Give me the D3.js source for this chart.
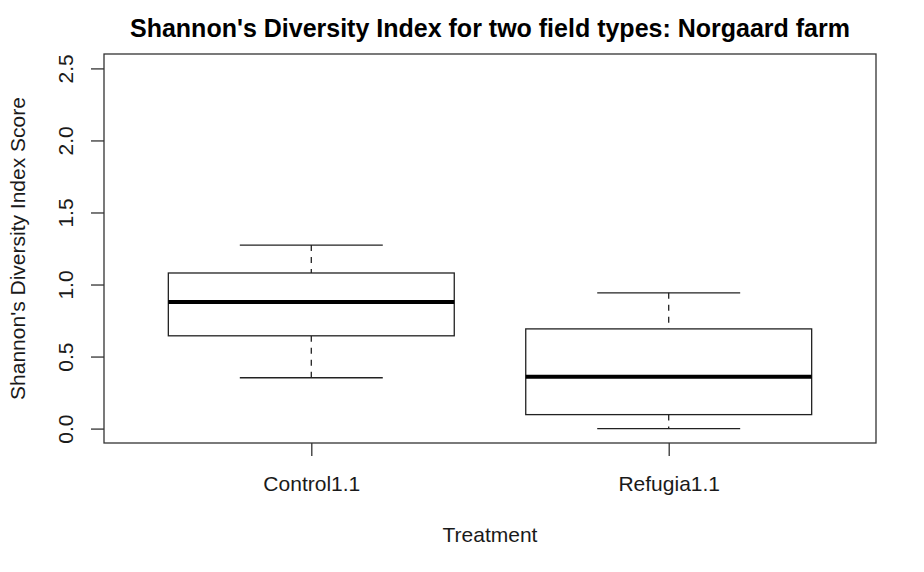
<!DOCTYPE html>
<html>
<head>
<meta charset="utf-8">
<script src="https://cdn.jsdelivr.net/npm/d3@7"></script>
<style>
  body { margin: 0; background: #fff; }
  text { font-family: "Liberation Sans", Arial, Helvetica, sans-serif; fill: #1a1a1a; }
</style>
</head>
<body>
<script>
// box stats
const groups = ["Control1.1", "Refugia1.1"];
const lowerWhisker = [0.353, 0.0];
const q1 = [0.644, 0.097];
const medians = [0.879, 0.36];
const q3 = [1.08, 0.692];
const upperWhisker = [1.274, 0.942];
const yTicks = [0, 0.5, 1.0, 1.5, 2.0, 2.5];

const width = 924, height = 572;
const plot = { left: 104, right: 876, top: 54, bottom: 443 };

const svg = d3.select("body").append("svg")
    .attr("width", width)
    .attr("height", height);

// R style: xlim 0.5..n+0.5, padded by 4%
const x = d3.scaleLinear()
    .domain([0.42, 2.58])
    .range([plot.left, plot.right]);

const y = d3.scaleLinear()
    .domain([-0.1, 2.6])
    .range([plot.bottom, plot.top]);

const boxW = 0.8, capW = 0.4;

const data = groups.map((g, i) => ({
    name: g, pos: i + 1,
    lo: lowerWhisker[i], q1: q1[i], med: medians[i], q3: q3[i], hi: upperWhisker[i]
}));

const boxes = svg.selectAll(".box")
    .data(data)
    .enter().append("g")
    .attr("class", "box");

// dashed whiskers
boxes.append("line")
    .attr("x1", d => x(d.pos)).attr("x2", d => x(d.pos))
    .attr("y1", d => y(d.hi)).attr("y2", d => y(d.q3))
    .attr("stroke", "#222").attr("stroke-width", 1.3)
    .attr("stroke-dasharray", "6,6");
boxes.append("line")
    .attr("x1", d => x(d.pos)).attr("x2", d => x(d.pos))
    .attr("y1", d => y(d.q1)).attr("y2", d => y(d.lo))
    .attr("stroke", "#222").attr("stroke-width", 1.3)
    .attr("stroke-dasharray", "6,6");

// staples
["hi", "lo"].forEach(k => {
    boxes.append("line")
        .attr("x1", d => x(d.pos - capW / 2)).attr("x2", d => x(d.pos + capW / 2))
        .attr("y1", d => y(d[k])).attr("y2", d => y(d[k]))
        .attr("stroke", "#222").attr("stroke-width", 1.3);
});

boxes.append("rect")
    .attr("x", d => x(d.pos - boxW / 2))
    .attr("width", d => x(d.pos + boxW / 2) - x(d.pos - boxW / 2))
    .attr("y", d => y(d.q3))
    .attr("height", d => y(d.q1) - y(d.q3))
    .attr("fill", "white")
    .attr("stroke", "#222").attr("stroke-width", 1.3);

boxes.append("line")
    .attr("x1", d => x(d.pos - boxW / 2)).attr("x2", d => x(d.pos + boxW / 2))
    .attr("y1", d => y(d.med)).attr("y2", d => y(d.med))
    .attr("stroke", "#000").attr("stroke-width", 4);

// plot frame
svg.append("rect")
    .attr("x", plot.left).attr("y", plot.top)
    .attr("width", plot.right - plot.left)
    .attr("height", plot.bottom - plot.top)
    .attr("fill", "none")
    .attr("stroke", "#333").attr("stroke-width", 1.3);

// y axis
const yAxis = svg.append("g")
    .attr("transform", `translate(${plot.left},0)`)
    .call(d3.axisLeft(y).tickValues(yTicks).tickSize(13).tickFormat(d3.format(".1f")));
yAxis.select(".domain").remove();
yAxis.selectAll(".tick line").attr("stroke", "#333").attr("stroke-width", 1.3);
yAxis.selectAll(".tick text")
    .attr("x", null).attr("dy", null)
    .attr("text-anchor", "middle")
    .attr("transform", "translate(-31,0) rotate(-90)")
    .style("font-size", "21px")
    .style("fill", "#1a1a1a");

// x axis
const xAxis = svg.append("g")
    .attr("transform", `translate(0,${plot.bottom})`)
    .call(d3.axisBottom(x).tickValues([1, 2]).tickSize(13).tickFormat(d => groups[d - 1]));
xAxis.select(".domain").remove();
xAxis.selectAll(".tick line").attr("stroke", "#333").attr("stroke-width", 1.3);
xAxis.selectAll(".tick text")
    .attr("y", 48).attr("dy", null)
    .style("font-size", "21px")
    .style("fill", "#1a1a1a");

// titles
svg.append("text")
    .attr("x", (plot.left + plot.right) / 2)
    .attr("y", 37)
    .attr("text-anchor", "middle")
    .style("font-size", "25px")
    .style("font-weight", "bold")
    .style("fill", "#000")
    .text("Shannon's Diversity Index for two field types: Norgaard farm");

svg.append("text")
    .attr("x", (plot.left + plot.right) / 2)
    .attr("y", 542)
    .attr("text-anchor", "middle")
    .style("font-size", "21px")
    .text("Treatment");

svg.append("text")
    .attr("transform", `translate(25,${(plot.top + plot.bottom) / 2}) rotate(-90)`)
    .attr("text-anchor", "middle")
    .style("font-size", "21px")
    .text("Shannon's Diversity Index Score");
</script>
</body>
</html>
